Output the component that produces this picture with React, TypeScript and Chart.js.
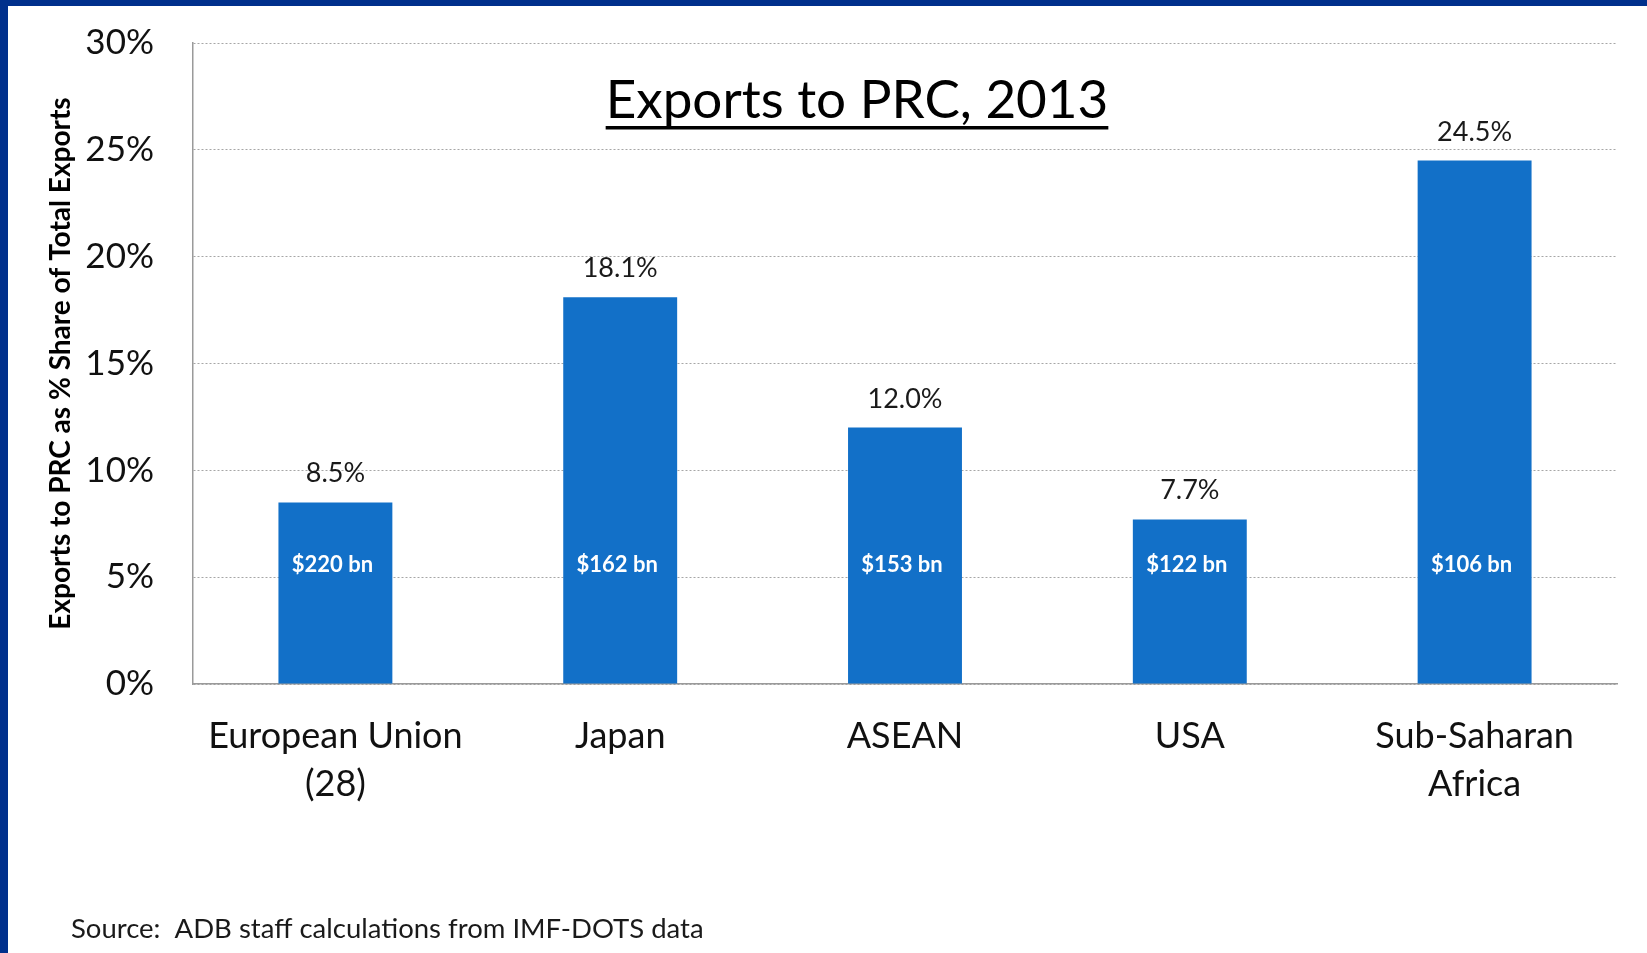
import React, { useEffect, useRef } from "react";
import { Chart, registerables } from "chart.js";

Chart.register(...registerables);

const categories: (string | string[])[] = [["European Union", "(28)"], "Japan", "ASEAN", "USA", ["Sub-Saharan", "Africa"]];
const shareValues = [8.5, 18.1, 12.0, 7.7, 24.5];
const valueLabels = ["8.5%", "18.1%", "12.0%", "7.7%", "24.5%"];
const exportValues = ["$220 bn", "$162 bn", "$153 bn", "$122 bn", "$106 bn"];
const yMin = 0;
const yMax = 30;
const yStep = 5;
const chartTitle = "Exports to PRC, 2013";
const yAxisTitle = "Exports to PRC as % Share of Total Exports";
const sourceNote = "Source:  ADB staff calculations from IMF-DOTS data";

const FONT = "Lato";

const decorPlugin = {
  id: "decor",
  beforeDraw(chart: any) {
    const ctx = chart.ctx;
    ctx.save();
    ctx.fillStyle = "#ffffff";
    ctx.fillRect(0, 0, chart.width, chart.height);
    ctx.restore();
  },
  afterDatasetsDraw(chart: any) {
    const ctx = chart.ctx;
    const meta = chart.getDatasetMeta(0);
    ctx.save();
    meta.data.forEach((bar: any, i: number) => {
      ctx.font = `27px ${FONT}`;
      ctx.fillStyle = "#1a1a1a";
      ctx.textAlign = "center";
      ctx.textBaseline = "alphabetic";
      ctx.fillText(valueLabels[i], bar.x, bar.y - 20);
      ctx.font = `bold 22px ${FONT}`;
      ctx.fillStyle = "#ffffff";
      ctx.textBaseline = "middle";
      ctx.fillText(exportValues[i], bar.x - 3, bar.base - 119);
    });
    ctx.restore();
  },
  afterDraw(chart: any) {
    const ctx = chart.ctx;
    const area = chart.chartArea;
    ctx.save();
    // title
    ctx.font = `53px ${FONT}`;
    ctx.fillStyle = "#000000";
    ctx.textAlign = "center";
    ctx.textBaseline = "alphabetic";
    const cx = (area.left + area.right) / 2 - 48;
    ctx.fillText(chartTitle, cx, 118);
    const w = ctx.measureText(chartTitle).width;
    ctx.fillRect(cx - w / 2, 126, w, 3.5);
    // source
    ctx.font = `27.5px ${FONT}`;
    ctx.textAlign = "left";
    ctx.fillStyle = "#1a1a1a";
    ctx.fillText(sourceNote, 71, 938);
    // slide border
    ctx.fillStyle = "#00308C";
    ctx.fillRect(0, 0, chart.width, 6);
    ctx.fillRect(0, 0, 8, chart.height);
    ctx.restore();
  },
};

export default function App() {
  const ref = useRef<HTMLCanvasElement>(null);

  useEffect(() => {
    const chart = new Chart(ref.current as HTMLCanvasElement, {
      type: "bar",
      data: {
        labels: categories,
        datasets: [
          {
            data: shareValues,
            backgroundColor: "#1270C8",
            borderWidth: 0,
            barPercentage: 0.4,
            categoryPercentage: 1,
          },
        ],
      },
      options: {
        animation: false,
        responsive: false,
        maintainAspectRatio: false,
        layout: { padding: { left: 0, top: 43, right: 30, bottom: 0 } },
        plugins: {
          legend: { display: false },
          tooltip: { enabled: false },
          title: { display: false },
        },
        scales: {
          x: {
            grid: { display: false, drawTicks: false },
            border: { display: true, color: "#9a9a9a", width: 1.5 },
            ticks: {
              font: { family: FONT, size: 36, lineHeight: 1.34 },
              color: "#111111",
              padding: 28,
              maxRotation: 0,
              autoSkip: false,
            },
            afterFit: (s: any) => {
              s.height = 269;
              s.paddingLeft = 0;
              s.paddingRight = 0;
            },
          },
          y: {
            min: yMin,
            max: yMax,
            ticks: {
              stepSize: yStep,
              callback: (v: any) => `${v}%`,
              font: { family: FONT, size: 35 },
              color: "#111111",
              padding: 39,
            },
            grid: { drawTicks: false, color: "#a6a6a6", lineWidth: 1 },
            border: { display: true, color: "#9a9a9a", width: 1.5, dash: [2, 2] },
            title: {
              display: true,
              text: yAxisTitle,
              font: { family: FONT, size: 28, weight: "bold" },
              color: "#000000",
              padding: { top: 44, bottom: 0 },
            },
            afterFit: (s: any) => {
              s.width = 193;
              s.paddingTop = 0;
              s.paddingBottom = 0;
            },
          },
        },
      },
      plugins: [decorPlugin],
    } as any);
    return () => chart.destroy();
  }, []);

  return (
    <div style={{ position: "fixed", left: 0, top: 0, width: 1647, height: 953, background: "#ffffff" }}>
      <canvas ref={ref} width={1647} height={953} style={{ display: "block", width: 1647, height: 953 }} />
    </div>
  );
}
